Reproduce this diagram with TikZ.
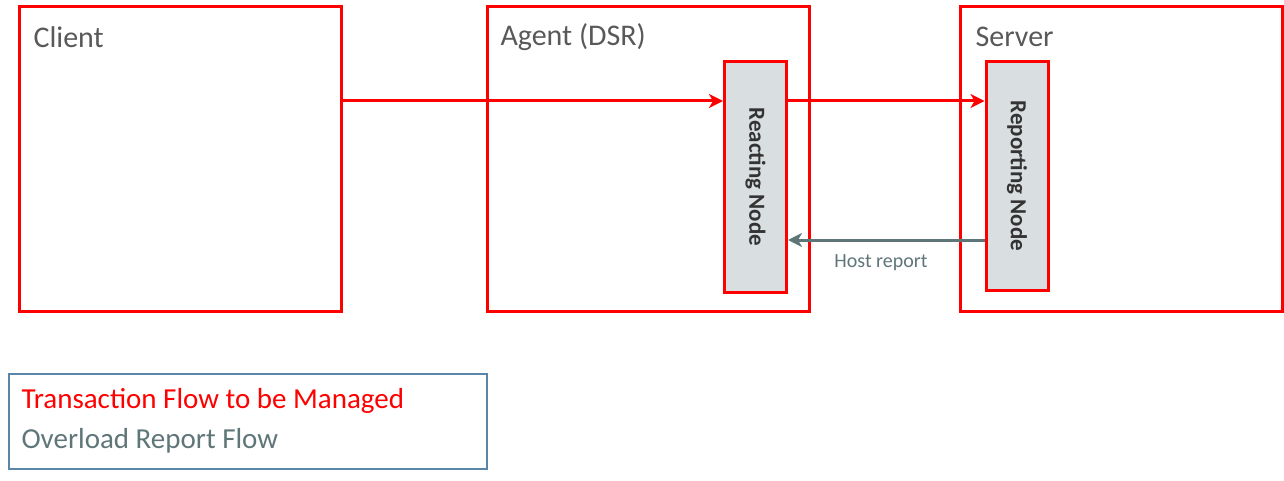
\documentclass[tikz,border=0pt]{standalone}
\usepackage{fontspec}
\setmainfont{Carlito}
\usetikzlibrary{arrows.meta}
\definecolor{flowred}{HTML}{FF0000}
\definecolor{repgray}{HTML}{5F7678}
\definecolor{nodefill}{HTML}{D9DEE0}
\definecolor{legblue}{HTML}{5A86A8}
\tikzset{
    party/.style={draw=flowred, line width=3pt, anchor=north west, inner sep=0pt},
    ovl/.style={draw=flowred, line width=3pt, fill=nodefill, minimum width=62pt, inner sep=0pt},
    title/.style={anchor=west, text=black!65, font=\fontsize{30}{30}\selectfont},
    flow/.style={draw=flowred, line width=3pt, -{Stealth[length=14pt,width=14pt,inset=4pt]}},
    report/.style={draw=repgray, line width=3pt, -{Stealth[length=14pt,width=14pt,inset=4pt]}}
}
\begin{document}
\begin{tikzpicture}[x=1pt,y=-1pt]
    \useasboundingbox (0,0) rectangle (1284,481);
    % Parties
    \node[party, minimum width=322pt, minimum height=305pt] (client) at (18,5) {};
    \node[party, minimum width=322pt, minimum height=305pt] (agent) at (486,5) {};
    \node[party, minimum width=322pt, minimum height=305pt] (server) at (959,5) {};
    \node[title] at (30,37) {Client};
    \node[title] at (497,37) {Agent (DSR)};
    \node[title] at (972,37) {Server};

    % Overload nodes
    \node[ovl, minimum height=230pt] (reacting) at (755.5,177) {};
    \node[ovl, minimum height=228pt] (reporting) at (1017,176) {};
    \node[rotate=-90, font=\bfseries\fontsize{23}{23}\selectfont, text=black!80] at (reacting) {Reacting Node};
    \node[rotate=-90, font=\bfseries\fontsize{23}{23}\selectfont, text=black!80] at (reporting) {Reporting Node};

    % Flows
    \coordinate (c1) at (client.east |- 0,101);
    \coordinate (r1) at (reacting.west |- 0,101);
    \coordinate (r2) at (reacting.east |- 0,101);
    \coordinate (s1) at (reporting.west |- 0,101);
    \draw[flow] (c1) -- (r1);
    \draw[flow] (r2) -- (s1);
    \coordinate (s2) at (reporting.west |- 0,240);
    \coordinate (r3) at (reacting.east |- 0,240);
    \draw[report] (s2) -- (r3);
    \node[text=repgray, font=\fontsize{20}{20}\selectfont] (host) at (881,263) {Host report};

    % Legend
    \node[draw=legblue, line width=1.5pt, anchor=north west, minimum width=478pt, minimum height=95pt] (legend) at (8,373) {};
    \node[anchor=west, text=flowred, font=\fontsize{29}{29}\selectfont] at (18,401) {Transaction Flow to be Managed};
    \node[anchor=west, text=repgray, font=\fontsize{29}{29}\selectfont] at (18,441) {Overload Report Flow};
\end{tikzpicture}
\end{document}
